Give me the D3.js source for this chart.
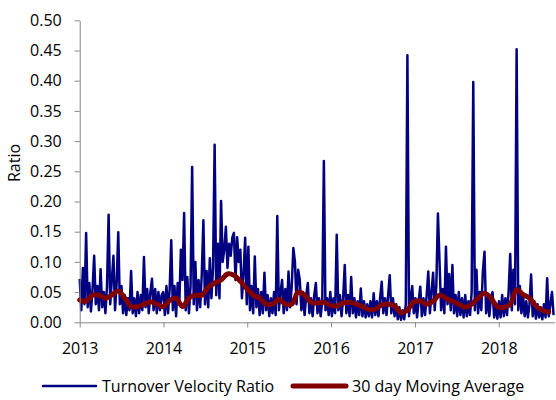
<!DOCTYPE html>
<html>
<head>
<meta charset="utf-8">
<script src="https://cdn.jsdelivr.net/npm/d3@7"></script>
<style>
  body { margin: 0; background: #fff; }
  text { font-family: "Open Sans", sans-serif; fill: #000; }
</style>
</head>
<body>
<script>
// weekly turnover velocity ratio, one array per year
const ratio2013 = [0.072, 0.02, 0.09, 0.03, 0.148, 0.025, 0.065, 0.018, 0.055, 0.11, 0.03, 0.06, 0.02, 0.088, 0.025, 0.05, 0.015, 0.06, 0.178, 0.03, 0.07, 0.11, 0.02, 0.065, 0.149, 0.03, 0.06, 0.015, 0.045, 0.012, 0.04, 0.02, 0.085, 0.015, 0.04, 0.01, 0.05, 0.015, 0.045, 0.02, 0.108, 0.025, 0.055, 0.015, 0.05, 0.072, 0.02, 0.055, 0.015, 0.05, 0.02, 0.045]
const ratio2014 = [0.05, 0.012, 0.06, 0.015, 0.055, 0.136, 0.02, 0.06, 0.01, 0.065, 0.03, 0.12, 0.07, 0.181, 0.02, 0.075, 0.015, 0.06, 0.257, 0.03, 0.1, 0.02, 0.07, 0.025, 0.08, 0.169, 0.03, 0.085, 0.025, 0.106, 0.04, 0.09, 0.294, 0.045, 0.13, 0.04, 0.201, 0.1, 0.12, 0.158, 0.09, 0.13, 0.11, 0.14, 0.148, 0.07, 0.141, 0.1, 0.12, 0.04, 0.08, 0.14]
const ratio2015 = [0.03, 0.125, 0.02, 0.06, 0.015, 0.109, 0.025, 0.055, 0.012, 0.05, 0.015, 0.082, 0.02, 0.045, 0.01, 0.04, 0.015, 0.05, 0.012, 0.176, 0.02, 0.05, 0.07, 0.015, 0.055, 0.02, 0.084, 0.025, 0.06, 0.123, 0.1, 0.03, 0.087, 0.07, 0.02, 0.05, 0.012, 0.045, 0.065, 0.015, 0.04, 0.01, 0.045, 0.065, 0.015, 0.04, 0.01, 0.035, 0.267, 0.02, 0.04, 0.012]
const ratio2016 = [0.05, 0.01, 0.04, 0.015, 0.145, 0.02, 0.045, 0.01, 0.04, 0.095, 0.015, 0.045, 0.01, 0.075, 0.015, 0.04, 0.008, 0.035, 0.012, 0.056, 0.01, 0.035, 0.008, 0.03, 0.01, 0.035, 0.008, 0.048, 0.012, 0.035, 0.01, 0.04, 0.067, 0.015, 0.04, 0.012, 0.045, 0.078, 0.015, 0.04, 0.01, 0.03, 0.005, 0.025, 0.004, 0.02, 0.005, 0.03, 0.442, 0.01, 0.04, 0.06]
const ratio2017 = [0.015, 0.04, 0.008, 0.035, 0.059, 0.01, 0.04, 0.012, 0.045, 0.084, 0.015, 0.05, 0.082, 0.02, 0.06, 0.18, 0.1, 0.02, 0.055, 0.015, 0.125, 0.03, 0.08, 0.02, 0.095, 0.015, 0.045, 0.01, 0.05, 0.012, 0.04, 0.008, 0.045, 0.01, 0.035, 0.012, 0.05, 0.398, 0.02, 0.087, 0.015, 0.05, 0.02, 0.085, 0.117, 0.015, 0.045, 0.01, 0.04, 0.05, 0.008, 0.03]
const ratio2018 = [0.006, 0.035, 0.008, 0.045, 0.01, 0.04, 0.012, 0.05, 0.113, 0.02, 0.087, 0.03, 0.452, 0.02, 0.06, 0.015, 0.045, 0.01, 0.035, 0.008, 0.03, 0.079, 0.01, 0.035, 0.006, 0.03, 0.008, 0.025, 0.005, 0.03, 0.008, 0.073, 0.01, 0.03, 0.05, 0.012]

// 30 day moving average, one reading every 4 weeks
const movingAvg = [0.037, 0.035, 0.045, 0.045, 0.04, 0.045, 0.052, 0.04, 0.026, 0.026, 0.03, 0.034, 0.03, 0.026, 0.036, 0.04, 0.026, 0.04, 0.045, 0.045, 0.058, 0.065, 0.07, 0.08, 0.078, 0.068, 0.056, 0.045, 0.04, 0.03, 0.03, 0.038, 0.03, 0.03, 0.05, 0.045, 0.033, 0.032, 0.033, 0.028, 0.027, 0.032, 0.033, 0.03, 0.026, 0.021, 0.022, 0.029, 0.03, 0.027, 0.016, 0.02, 0.034, 0.035, 0.03, 0.035, 0.045, 0.04, 0.035, 0.03, 0.025, 0.03, 0.04, 0.048, 0.04, 0.026, 0.025, 0.03, 0.054, 0.046, 0.04, 0.027, 0.02, 0.017]

const yearTicks = [2013, 2014, 2015, 2016, 2017, 2018]
const yTicks = [0, 0.05, 0.1, 0.15, 0.2, 0.25, 0.3, 0.35, 0.4, 0.45, 0.5]
const seriesNames = ['Turnover Velocity Ratio', '30 day Moving Average']

const w = 556
const h = 400
const plotLeft = 79.7
const plotRight = 554.5
const plotTop = 20.3
const plotBottom = 322.3

const start = new Date(2013, 0, 1)
const ratio = [].concat(ratio2013, ratio2014, ratio2015, ratio2016, ratio2017, ratio2018)
const weekly = ratio.map((v, i) => [d3.timeDay.offset(start, i * 7), v])
const avg = movingAvg.map((v, i) => [d3.timeDay.offset(start, i * 28), v])

const xScale = d3.scaleTime()
  .domain([start, new Date(2018, 8, 1)])
  .range([plotLeft, plotRight])
const yScale = d3.scaleLinear()
  .domain([0, 0.5])
  .range([plotBottom, plotTop])

const svg = d3.select('body')
  .append('svg')
  .attr('width', w)
  .attr('height', h)

const line = d3.line()
  .x(d => xScale(d[0]))
  .y(d => yScale(d[1]))

svg.append('path')
  .datum(weekly)
  .attr('fill', 'none')
  .attr('stroke', '#000080')
  .attr('stroke-width', 2.5)
  .attr('stroke-linejoin', 'round')
  .attr('d', line)

svg.append('path')
  .datum(avg)
  .attr('fill', 'none')
  .attr('stroke', '#800000')
  .attr('stroke-width', 5)
  .attr('stroke-linejoin', 'round')
  .attr('stroke-linecap', 'round')
  .attr('d', line.curve(d3.curveCatmullRom))

const xAxis = d3.axisBottom(xScale)
  .tickValues(yearTicks.map(y => new Date(y, 0, 1)))
  .tickFormat(d3.timeFormat('%Y'))
  .tickSize(5)
  .tickSizeOuter(0)
  .tickPadding(15)
const yAxis = d3.axisLeft(yScale)
  .tickValues(yTicks)
  .tickFormat(d3.format('.2f'))
  .tickSize(5)
  .tickSizeOuter(0)
  .tickPadding(13)

svg.append('g')
  .attr('id', 'x-axis')
  .attr('transform', `translate(0, ${plotBottom})`)
  .call(xAxis)

svg.append('g')
  .attr('id', 'y-axis')
  .attr('transform', `translate(${plotLeft}, 0)`)
  .call(yAxis)

svg.selectAll('.domain, .tick line').attr('stroke', '#868686')
svg.selectAll('.tick text')
  .attr('font-family', '"Open Sans", sans-serif')
  .attr('font-size', 16)
  .attr('fill', '#000')

svg.append('text')
  .attr('transform', 'translate(20, 163) rotate(-90)')
  .attr('text-anchor', 'middle')
  .attr('font-size', 16)
  .text('Ratio')

// legend
const legend = svg.append('g').attr('transform', 'translate(0, 386)')
const items = [
  { x: 43, color: '#000080', width: 2.5 },
  { x: 293, color: '#800000', width: 5 }
]
items.forEach((it, i) => {
  legend.append('line')
    .attr('x1', it.x).attr('x2', it.x + 53)
    .attr('y1', 0).attr('y2', 0)
    .attr('stroke', it.color)
    .attr('stroke-width', it.width)
    .attr('stroke-linecap', 'round')
  legend.append('text')
    .attr('x', it.x + 59)
    .attr('dy', '0.35em')
    .attr('font-size', 16)
    .text(seriesNames[i])
})
</script>
</body>
</html>
